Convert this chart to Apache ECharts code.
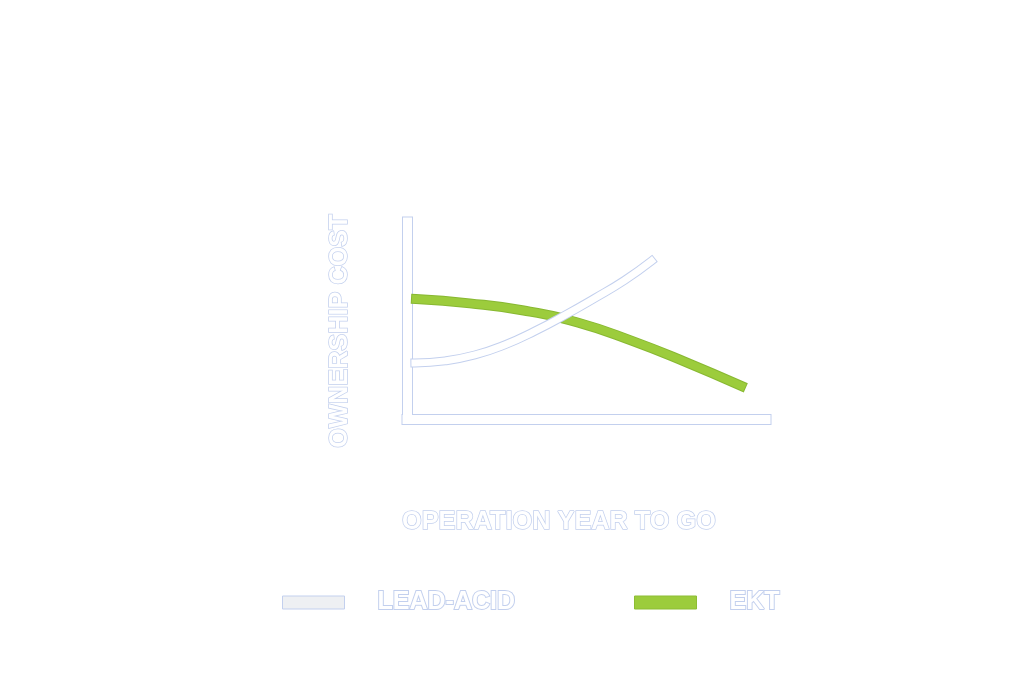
<!DOCTYPE html>
<html>
<head>
<meta charset="utf-8">
<script src="https://cdn.jsdelivr.net/npm/echarts@6/dist/echarts.min.js"></script>
<style>
html,body{margin:0;padding:0;background:#fff;}
#c{width:1024px;height:675px;}
</style>
</head>
<body>
<div id="c"></div>
<script>
// Data (relative units, 0-100 on both axes)
var seriesNames = ['LEAD-ACID', 'EKT'];
var xTitle = 'OPERATION YEAR TO GO';
var yTitle = 'OWNERSHIP COST';
var leadAcidX = [2.2, 10.6, 18.9, 27.2, 35.6, 43.9, 52.2, 60.6, 68.1];
var leadAcidY = [28.4, 29.5, 32.5, 37.6, 44.6, 52.6, 61.2, 70.4, 80.2];
var ektX = [2.5, 17.5, 32.5, 47.5, 62.5, 77.5, 93.1];
var ektY = [60.9, 58.7, 55.1, 49.0, 39.8, 29.0, 16.8];

function pairs(xs, ys) { return xs.map(function (x, i) { return [x, ys[i]]; }); }

var OUT = '#c3d0ee';
var textFont = 'bold 25.3px "Liberation Sans", Arial, sans-serif';

var chart = echarts.init(document.getElementById('c'));
var axisCommon = {
  type: 'value', min: 0, max: 100,
  axisTick: { show: false }, axisLabel: { show: false }, splitLine: { show: false }
};
function ax(pos, width, color, z) {
  return Object.assign({}, axisCommon, {
    position: pos, z: z, offset: 0,
    axisLine: { show: true, onZero: false, lineStyle: { color: color, width: width, cap: 'square' } }
  });
}
var legendText = {
  fontFamily: '"Liberation Sans", Arial, sans-serif', fontWeight: 'bold', fontSize: 25,
  color: '#ffffff', textBorderColor: OUT, textBorderWidth: 2, padding: [0, 0, 0, 28]
};
chart.setOption({
  animation: false,
  backgroundColor: '#ffffff',
  grid: { left: 407, top: 222, right: 258, bottom: 256 },
  xAxis: [ax('bottom', 11, OUT, 0), ax('bottom', 9, '#ffffff', 1)],
  yAxis: [ax('left', 11, OUT, 0), ax('left', 9, '#ffffff', 1)],
  legend: [
    { left: 277, top: 584, itemWidth: 62, itemHeight: 13, textStyle: legendText,
      data: [{ name: seriesNames[0], icon: 'rect', itemStyle: { color: '#eef0f3', borderColor: OUT, borderWidth: 1 } }] },
    { left: 629, top: 584, itemWidth: 62, itemHeight: 13, textStyle: legendText,
      data: [{ name: seriesNames[1], icon: 'rect', itemStyle: { color: '#9ccc3c', borderColor: '#8dbd34', borderWidth: 1 } }] }
  ],
  graphic: [
    { type: 'text', x: 402, y: 522, z: 10,
      style: { text: xTitle, font: textFont, fill: '#ffffff', stroke: OUT, lineWidth: 1.5, align: 'left', verticalAlign: 'middle' } },
    { type: 'text', x: 340, y: 331, rotation: Math.PI / 2, z: 10,
      style: { text: yTitle, font: textFont, fill: '#ffffff', stroke: OUT, lineWidth: 1.5, align: 'center', verticalAlign: 'middle' } }
  ],
  series: [
    { name: '_ekt_outline', type: 'line', smooth: true, showSymbol: false, clip: false, z: 2, silent: true,
      data: pairs(ektX, ektY), lineStyle: { color: '#88b832', width: 10, cap: 'square' } },
    { name: seriesNames[1], type: 'line', smooth: true, showSymbol: false, clip: false, z: 3,
      data: pairs(ektX, ektY), itemStyle: { color: '#9ccc3c' }, lineStyle: { color: '#9ccc3c', width: 8, cap: 'square' } },
    { name: '_la_outline', type: 'line', smooth: true, showSymbol: false, clip: false, z: 4, silent: true,
      data: pairs(leadAcidX, leadAcidY), lineStyle: { color: OUT, width: 9, cap: 'square' } },
    { name: seriesNames[0], type: 'line', smooth: true, showSymbol: false, clip: false, z: 5,
      data: pairs(leadAcidX, leadAcidY), itemStyle: { color: '#eef0f3' }, lineStyle: { color: '#ffffff', width: 7, cap: 'square' } }
  ]
});
</script>
</body>
</html>
